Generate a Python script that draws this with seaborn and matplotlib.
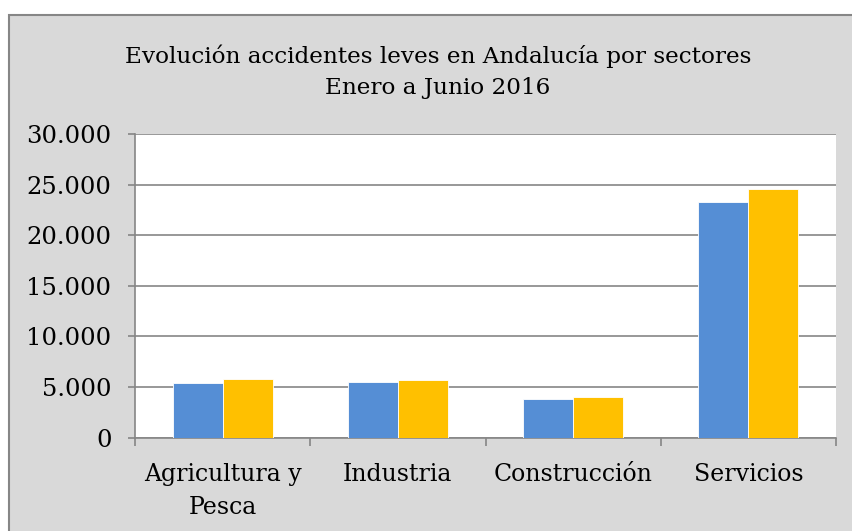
import matplotlib
matplotlib.use("Agg")
import matplotlib.pyplot as plt
import matplotlib.ticker as mticker
from matplotlib.patches import Rectangle
import seaborn as sns
import pandas as pd

# =========================
# DATOS
# =========================
sectores = ["Agricultura y\nPesca", "Industria", "Construcción", "Servicios"]
serie_1 = [5370, 5470, 3790, 23320]
serie_2 = [5800, 5670, 3990, 24570]
series = ["Serie 1", "Serie 2"]
colores = ["#558ed5", "#ffc000"]

titulo = "Evolución accidentes leves en Andalucía por sectores\nEnero a Junio 2016"

df = pd.DataFrame({
    "Sector": sectores * 2,
    "Accidentes": serie_1 + serie_2,
    "Serie": [series[0]] * len(sectores) + [series[1]] * len(sectores),
})

# =========================
# GRAFICO
# =========================
sns.set_style("white")
plt.rcParams["font.family"] = ["DejaVu Serif"]
plt.rcParams["text.color"] = "black"
plt.rcParams["xtick.labelcolor"] = "black"
plt.rcParams["ytick.labelcolor"] = "black"

gris = "#868686"
fig = plt.figure(figsize=(8.52, 5.31), dpi=100, facecolor="white")

# marco gris del grafico
marco = Rectangle((8.5 / 852, -0.02), 1.0, (531 - 14.7) / 531 + 0.02,
                  transform=fig.transFigure, facecolor="#d9d9d9",
                  edgecolor=gris, linewidth=1.5, zorder=-1)
fig.add_artist(marco)

ax = fig.add_axes([135 / 852, 1 - 437.7 / 531, (836 - 135) / 852, (437.7 - 134) / 531])
ax.set_facecolor("white")

sns.barplot(data=df, x="Sector", y="Accidentes", hue="Serie", palette=colores,
            saturation=1, width=100 / 175, gap=0, legend=False, edgecolor="white",
            linewidth=0.6, ax=ax, zorder=3)

ax.set_xlim(-0.5, len(sectores) - 0.5)
ax.set_ylim(0, 30000)
ax.yaxis.set_major_locator(mticker.MultipleLocator(5000))
ax.yaxis.set_major_formatter(mticker.FuncFormatter(lambda v, p: f"{int(v):,}".replace(",", ".")))
ax.grid(axis="y", color=gris, linewidth=1.2, zorder=0)
ax.set_axisbelow(True)

# marcas en los limites de categoria, etiquetas en el centro
ax.set_xticks([i - 0.5 for i in range(len(sectores) + 1)])
ax.set_xticklabels([])
ax.set_xticks(range(len(sectores)), minor=True)
ax.set_xticklabels(sectores, minor=True, fontsize=17, linespacing=1.58)
ax.tick_params(axis="x", which="major", length=6, width=1.2, color=gris, direction="out")
ax.tick_params(axis="x", which="minor", length=0, pad=18)
ax.tick_params(axis="y", length=5, width=1.2, color=gris, direction="out", pad=12, labelsize=17.5)
ax.tick_params(axis="x", bottom=True)
ax.tick_params(axis="y", left=True)

for s in ["top", "right"]:
    ax.spines[s].set_visible(False)
for s in ["left", "bottom"]:
    ax.spines[s].set_color(gris)
    ax.spines[s].set_linewidth(1.2)

ax.set_xlabel("")
ax.set_ylabel("")

fig.text(438 / 852, 1 - 71.5 / 531, titulo, ha="center", va="center",
         fontsize=16.7, linespacing=1.52)

fig.savefig("out.png", dpi=100, facecolor=fig.get_facecolor())
